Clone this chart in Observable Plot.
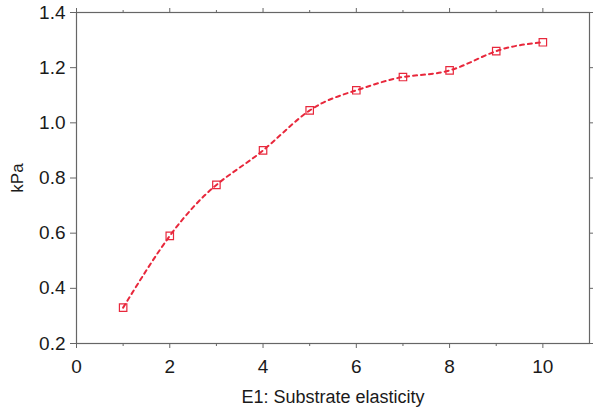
<!DOCTYPE html>
<html>
<head>
<meta charset="utf-8">
<script src="https://cdn.jsdelivr.net/npm/d3@7"></script>
<script src="https://cdn.jsdelivr.net/npm/@observablehq/plot@0.6"></script>
<style>
  html, body { margin: 0; padding: 0; background: #fff; }
  #chart svg { display: block; }
  #chart g[aria-label$="tick label"] { font-size: 19px; }
</style>
</head>
<body>
<div id="chart"></div>
<script>
const elasticity = [1, 2, 3, 4, 5, 6, 7, 8, 9, 10];
const kPa = [0.330, 0.590, 0.775, 0.900, 1.045, 1.118, 1.166, 1.190, 1.260, 1.292];
const xMajorTicks = [0, 2, 4, 6, 8, 10];
const xMinorTicks = [1, 3, 5, 7, 9];
const yTicks = [0.2, 0.4, 0.6, 0.8, 1.0, 1.2, 1.4];

const data = elasticity.map((x, i) => ({x, y: kPa[i]}));
const red = "#e8283c";
const axisColor = "#666";

const chart = Plot.plot({
  width: 593,
  height: 410,
  marginLeft: 76,
  marginRight: 4,
  marginTop: 12,
  marginBottom: 67,
  style: {fontFamily: "Liberation Sans, Arial, sans-serif", fontSize: "17px", color: "#222", background: "#fff"},
  x: {domain: [0, 11]},
  y: {domain: [0.2, 1.4]},
  marks: [
    Plot.frame({stroke: axisColor, strokeWidth: 1.2}),
    Plot.axisX({ticks: xMajorTicks, tickSize: 5, tickPadding: 11, stroke: axisColor, fill: "#1a1a1a", fontSize: 19,
      label: null, tickFormat: d => String(d)}),
    Plot.axisX({ticks: [], text: null, tickSize: 0, fill: "#1a1a1a", fontSize: 18,
      label: "E1: Substrate elasticity", labelAnchor: "center", labelArrow: "none", labelOffset: 59}),
    Plot.axisX({ticks: xMinorTicks, tickSize: 3, text: null, label: null, stroke: axisColor}),
    Plot.axisX({anchor: "top", ticks: xMajorTicks, tickSize: 5, text: null, label: null, stroke: axisColor}),
    Plot.axisX({anchor: "top", ticks: xMinorTicks, tickSize: 3, text: null, label: null, stroke: axisColor}),
    Plot.axisY({ticks: yTicks, tickSize: 6, tickPadding: 5, stroke: axisColor, fill: "#1a1a1a", fontSize: 19,
      tickFormat: d => d.toFixed(1), label: null}),
    Plot.axisY({ticks: [], text: null, tickSize: 0, fill: "#1a1a1a", fontSize: 17,
      label: "kPa", labelAnchor: "center", labelArrow: "none", labelOffset: 66}),
    Plot.axisY({anchor: "right", ticks: yTicks, tickSize: 4, text: null, label: null, stroke: axisColor}),
    Plot.line(data, {x: "x", y: "y", stroke: red, strokeWidth: 2, strokeDasharray: "4,4", curve: "natural"}),
    Plot.dot(data, {x: "x", y: "y", symbol: "square", r: 4.2, stroke: red, strokeWidth: 1.2, fill: "none"})
  ]
});
document.getElementById("chart").appendChild(chart);
</script>
</body>
</html>
